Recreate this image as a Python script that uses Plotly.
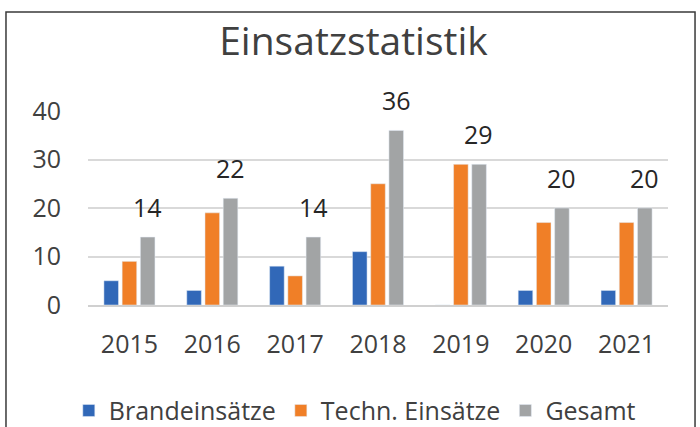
import plotly.graph_objects as go

years = ["2015", "2016", "2017", "2018", "2019", "2020", "2021"]
brand = [5, 3, 8, 11, 0, 3, 3]
techn = [9, 19, 6, 25, 29, 17, 17]
gesamt = [14, 22, 14, 36, 29, 20, 20]
y_ticks = [0, 10, 20, 30, 40]

FONT = "'Open Sans', sans-serif"
TXT = "#404040"

fig = go.Figure()
fig.add_trace(go.Bar(x=years, y=brand, name="Brandeinsätze", marker_color="#3168B8"))
fig.add_trace(go.Bar(x=years, y=techn, name="Techn. Einsätze", marker_color="#F07F27"))
fig.add_trace(go.Bar(x=years, y=gesamt, name="Gesamt", marker_color="#A2A4A5"))

for i, v in enumerate(gesamt):
    fig.add_annotation(x=i, y=v, text=str(v), showarrow=False, xshift=18, yshift=30,
                       font=dict(family=FONT, size=25, color="#262626"), xanchor="center", yanchor="middle")

# outer frame
fig.add_shape(type="rect", xref="paper", yref="paper", x0=-0.1414, x1=1.0466, y0=-0.66, y1=1.51,
              line=dict(color="#3a3a3a", width=1.5), fillcolor="rgba(0,0,0,0)", layer="below")

fig.update_layout(
    width=700, height=427,
    margin=dict(l=88, r=32, t=111, b=122, autoexpand=False),
    paper_bgcolor="white", plot_bgcolor="white",
    barmode="group", bargap=0.34, bargroupgap=0.2,
    title=dict(text="Einsatzstatistik", x=0.505, xanchor="center", y=0.904, yanchor="middle",
               font=dict(family=FONT, size=39, color=TXT)),
    font=dict(family=FONT, color=TXT),
    legend=dict(orientation="h", x=0.46, xanchor="center", y=-0.545, yanchor="middle",
                font=dict(family=FONT, size=25, color=TXT), traceorder="normal"),
    showlegend=True,
)
fig.update_yaxes(range=[0, 40], tickvals=y_ticks, showgrid=True, gridcolor="#D9D9D9", gridwidth=1.5,
                 zeroline=False, showline=False, tickfont=dict(family=FONT, size=25, color=TXT),
                 ticks="outside", ticklen=21, tickcolor="rgba(0,0,0,0)")
fig.update_xaxes(type="category", range=[-0.5, len(years) - 0.5], showline=True, linecolor="#D0D0D0",
                 linewidth=1.5, ticks="outside", ticklen=16, tickcolor="rgba(0,0,0,0)",
                 tickfont=dict(family=FONT, size=25, color=TXT))

fig.write_html("out.html", config={"displayModeBar": False},
               post_script="document.body.style.margin='0';document.body.style.overflow='hidden';")
